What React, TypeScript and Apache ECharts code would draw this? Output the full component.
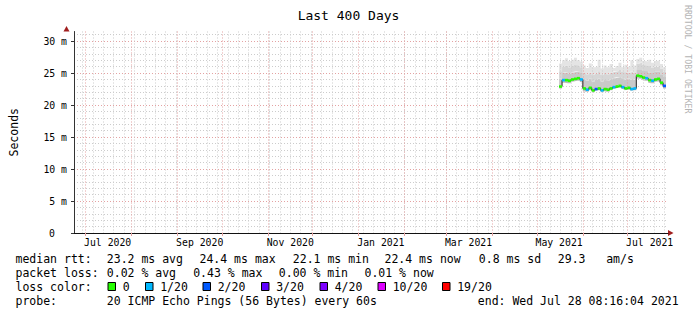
import React, { useEffect, useRef } from 'react';
import * as echarts from 'echarts';

const W = 697;
const H = 315;
const FONT = "'DejaVu Sans Mono', monospace";

// ---------- texts ----------
const titleText = 'Last 400 Days';
const yAxisName = 'Seconds';
const watermark = 'RRDTOOL / TOBI OETIKER';

// ---------- axes ----------
const rangeStart = new Date(2020, 5, 23, 8, 16, 4).getTime();
const rangeEnd = new Date(2021, 6, 28, 8, 16, 4).getTime();
const yMax = 31.5;
const yMajorTicks = [0, 5, 10, 15, 20, 25, 30];
const yMinorTicks = [0, 1, 2, 3, 4, 5, 6, 7, 8, 9, 10, 11, 12, 13, 14, 15, 16, 17, 18, 19, 20, 21, 22, 23, 24, 25, 26, 27, 28, 29, 30, 31];
const xLabelDates = ['2020-07-16', '2020-09-16', '2020-11-16', '2021-01-16', '2021-03-16', '2021-05-16', '2021-07-16'];
const xTickLabels = ['Jul 2020', 'Sep 2020', 'Nov 2020', 'Jan 2021', 'Mar 2021', 'May 2021', 'Jul 2021'];
const monthStarts = ['2020-07-01', '2020-08-01', '2020-09-01', '2020-10-01', '2020-11-01', '2020-12-01', '2021-01-01', '2021-02-01', '2021-03-01', '2021-04-01', '2021-05-01', '2021-06-01', '2021-07-01'];
const firstMonday = '2020-06-29';

// ---------- data (ms), one value per 2-day step ----------
const sampleDates = [
  '2021-05-16', '2021-05-18', '2021-05-20', '2021-05-22', '2021-05-24', '2021-05-26', '2021-05-28', '2021-05-30',
  '2021-06-01', '2021-06-03', '2021-06-05', '2021-06-07', '2021-06-09', '2021-06-11', '2021-06-13', '2021-06-15', '2021-06-17',
  '2021-06-19', '2021-06-21', '2021-06-23', '2021-06-25', '2021-06-27', '2021-06-29', '2021-07-01', '2021-07-03', '2021-07-05',
  '2021-07-07', '2021-07-09', '2021-07-11', '2021-07-13', '2021-07-15', '2021-07-17', '2021-07-19', '2021-07-21', '2021-07-23', '2021-07-25',
];
const dataEnd = '2021-07-27';
const medianMs = [
  22.9, 23.9, 23.9, 23.8, 24.0, 24.1, 24.2, 24.0,
  22.6, 22.4, 22.7, 22.3, 22.5, 22.6, 22.3, 22.5, 22.4, 22.6, 22.8, 22.9, 23.0, 22.8, 22.6, 22.7, 22.5, 22.6,
  24.6, 24.5, 24.3, 24.2, 23.9, 23.8, 24.0, 24.1, 23.5, 23.0,
];
const minMs = [
  22.6, 23.5, 23.5, 23.4, 23.6, 23.7, 23.8, 23.6,
  22.2, 22.1, 22.3, 22.0, 22.2, 22.3, 22.0, 22.2, 22.1, 22.3, 22.5, 22.6, 22.7, 22.5, 22.3, 22.4, 22.2, 22.3,
  24.2, 24.1, 23.9, 23.8, 23.5, 23.4, 23.6, 23.7, 23.1, 22.6,
];
const p75Ms = [
  24.1, 25.0, 25.1, 24.9, 25.1, 25.2, 25.3, 25.0,
  24.0, 23.8, 24.1, 23.7, 23.9, 24.1, 23.7, 23.9, 23.8, 24.0, 24.2, 24.3, 24.4, 24.2, 24.0, 24.1, 23.9, 24.0,
  25.6, 25.6, 25.4, 25.3, 25.1, 25.0, 25.2, 25.2, 24.8, 24.4,
];
const p90Ms = [
  25.3, 26.0, 26.2, 25.9, 26.1, 26.3, 26.2, 25.9,
  25.0, 24.8, 25.1, 24.7, 24.9, 25.3, 24.7, 25.0, 24.8, 25.1, 25.2, 25.3, 25.5, 25.2, 25.1, 25.1, 25.2, 25.0,
  26.5, 26.6, 26.3, 26.2, 26.1, 25.8, 26.0, 26.1, 25.7, 25.2,
];
const maxMs = [
  26.5, 27.0, 27.3, 26.9, 27.1, 27.4, 27.0, 26.8,
  26.2, 25.8, 26.5, 25.9, 26.0, 27.1, 25.7, 26.2, 25.9, 26.4, 25.8, 26.1, 26.6, 25.9, 26.3, 26.0, 27.0, 26.2,
  27.2, 27.4, 26.9, 26.8, 27.1, 26.6, 26.9, 27.0, 26.4, 25.9,
];
const lossLevel = [
  0, 1, 0, 0, 0, 0, 0, 1,
  0, 1, 0, 0, 2, 0, 1, 0, 0, 0, 1, 0, 0, 1, 0, 0, 1, 1,
  0, 0, 0, 1, 0, 1, 0, 0, 0, 2,
];

// ---------- legend ----------
const rttLabel = 'median rtt:';
const rttStats = ['23.2 ms avg', '24.4 ms max', '22.1 ms min', '22.4 ms now', '0.8 ms sd', '29.3', 'am/s'];
const lossLabel = 'packet loss:';
const lossStats = ['0.02 % avg', '0.43 % max', '0.00 % min', '0.01 % now'];
const colorLabel = 'loss color:';
const lossNames = ['0', '1/20', '2/20', '3/20', '4/20', '10/20', '19/20'];
const lossColors = ['#26ff00', '#00b8ff', '#0059ff', '#5e00ff', '#7e00ff', '#dd00ff', '#ff0000'];
const probeLabel = 'probe:';
const probeText = '20 ICMP Echo Pings (56 Bytes) every 60s';
const endText = 'end: Wed Jul 28 08:16:04 2021';

// ---------- layout ----------
const GRID = { left: 66, right: 29, top: 31.5, bottom: 82 };
const LEG_X0 = 15.5;
const LEG_Y = [259, 273, 287, 301];
const rttX = [106.8, 199.5, 292.8, 384.5, 478.8, 557.8, 606.2];
const lossX = [106.8, 193.2, 278.8, 364.5];
const boxX = [108, 145.5, 203, 261.5, 320, 378, 442.5];
const LEG_FS = 11.5;

const parseDay = (s: string) => {
  const [y, m, d] = s.split('-').map(Number);
  return new Date(y, m - 1, d).getTime();
};

export default function App() {
  const ref = useRef<HTMLDivElement>(null);
  useEffect(() => {
    document.body.style.margin = '0';
    const chart = echarts.init(ref.current!, null, { renderer: 'svg', width: W, height: H });

    const xs = sampleDates.map(parseDay);
    const xsEnd = [...xs, parseDay(dataEnd)];
    const ext = (arr: number[]) => [...arr, arr[arr.length - 1]];
    const weekTicks: number[] = [];
    const wd = new Date(parseDay(firstMonday));
    while (wd.getTime() < rangeEnd) {
      weekTicks.push(wd.getTime());
      wd.setDate(wd.getDate() + 7);
    }
    const monthTicks = monthStarts.map(parseDay);
    const labelTs = xLabelDates.map(parseDay);

    const lo = ext(minMs);
    const med = ext(medianMs);
    const p75 = ext(p75Ms);
    const p90 = ext(p90Ms);
    const hi = ext(maxMs);

    const DATA_X = 2; // hidden time axis carrying the series

    const band = (name: string, vals: number[], color: string | null) => ({
      name,
      type: 'line',
      xAxisIndex: DATA_X,
      yAxisIndex: 1,
      stack: 'smoke',
      step: 'end',
      symbol: 'none',
      silent: true,
      z: 2,
      lineStyle: { width: 0, opacity: 0 },
      areaStyle: color ? { color, opacity: 1 } : undefined,
      data: xsEnd.map((t, i) => [t, vals[i]]),
    });

    const minorColor = '#cccccc';
    const majorColor = '#e4a2a2';
    const axisColor = '#333333';

    const option: any = {
      animation: false,
      backgroundColor: '#ffffff',
      title: {
        text: titleText,
        left: 'center',
        top: 4,
        textStyle: { fontFamily: FONT, fontSize: 13, fontWeight: 'normal', color: '#000' },
      },
      grid: { ...GRID, containLabel: false },
      xAxis: [
        {
          type: 'value', min: rangeStart, max: rangeEnd, position: 'bottom', z: 3,
          axisLine: { show: false, onZero: false },
          axisTick: { show: false, customValues: weekTicks },
          axisLabel: { show: false },
          splitLine: { show: true, lineStyle: { color: minorColor, type: [1, 2], width: 1 } },
        },
        {
          type: 'value', min: rangeStart, max: rangeEnd, position: 'bottom', z: 3,
          axisLine: { show: true, onZero: false, lineStyle: { color: '#111', width: 1 } },
          axisTick: { show: true, customValues: monthTicks, length: 3, lineStyle: { color: majorColor } },
          axisLabel: {
            customValues: labelTs,
            formatter: (v: number) => {
              const i = labelTs.indexOf(v);
              return i >= 0 ? xTickLabels[i] : '';
            },
            fontFamily: FONT, fontSize: 9.8, color: '#000', margin: 4,
          },
          splitLine: { show: true, lineStyle: { color: majorColor, type: [1, 2], width: 1 } },
        },
        {
          type: 'time', min: rangeStart, max: rangeEnd, position: 'bottom', show: false,
          axisLine: { show: false, onZero: false },
          axisTick: { show: false },
          axisLabel: { show: false },
          splitLine: { show: false },
        },
      ],
      yAxis: [
        {
          type: 'value', min: 0, max: yMax, position: 'left', z: 3,
          axisLine: { show: false, onZero: false },
          axisTick: { show: false, customValues: yMinorTicks },
          axisLabel: { show: false },
          splitLine: { show: true, lineStyle: { color: minorColor, type: [1, 2], width: 1 } },
        },
        {
          type: 'value', min: 0, max: yMax, position: 'left', z: 3,
          name: yAxisName, nameLocation: 'middle', nameGap: 54, nameRotate: 90,
          nameTextStyle: { fontFamily: FONT, fontSize: 11.5, color: '#000' },
          axisLine: { show: true, onZero: false, lineStyle: { color: axisColor, width: 1 } },
          axisTick: { show: true, customValues: yMajorTicks, length: 3, lineStyle: { color: axisColor } },
          axisLabel: {
            customValues: yMajorTicks,
            formatter: (v: number) => (v === 0 ? '{z|0}' : `${v} m`),
            fontFamily: FONT, fontSize: 9.8, color: '#000', margin: 7,
            rich: { z: { padding: [0, 12, 0, 0], fontFamily: FONT, fontSize: 9.8, color: '#000' } },
          },
          splitLine: { show: true, lineStyle: { color: majorColor, type: [1, 2], width: 1 } },
        },
      ],
      series: [
        band('min', lo, null),
        band('min-median', med.map((v, i) => v - lo[i]), '#bcbcbc'),
        band('median-p75', p75.map((v, i) => v - med[i]), '#c9c9c9'),
        band('p75-p90', p90.map((v, i) => v - p75[i]), '#d6d6d6'),
        band('p90-max', hi.map((v, i) => v - p90[i]), '#e4e4e4'),
        {
          name: 'median',
          type: 'line', xAxisIndex: DATA_X, yAxisIndex: 1, step: 'end', symbol: 'none', silent: true, z: 4,
          lineStyle: { color: '#202020', width: 1 },
          data: xsEnd.map((t, i) => [t, med[i]]),
        },
        {
          name: 'loss',
          type: 'custom', xAxisIndex: DATA_X, yAxisIndex: 1, silent: true, z: 5,
          encode: { x: [0, 1], y: 2 },
          data: xs.map((t, i) => [t, xsEnd[i + 1], medianMs[i], lossLevel[i]]),
          renderItem: (_p: any, api: any) => {
            const a = api.coord([api.value(0), api.value(2)]);
            const b = api.coord([api.value(1), api.value(2)]);
            return {
              type: 'rect',
              shape: { x: a[0], y: a[1] - 1.3, width: b[0] - a[0], height: 2.6 },
              style: { fill: lossColors[api.value(3)] },
            };
          },
        },
      ],
      graphic: [
        { type: 'polygon', silent: true, shape: { points: [[63.5, 31.5], [69.5, 31.5], [66.5, 26]] }, style: { fill: '#a01e1e' } },
        { type: 'polygon', silent: true, shape: { points: [[668, 230], [668, 236], [673.5, 233]] }, style: { fill: '#a01e1e' } },
        {
          type: 'text', x: 688, y: 5, rotation: -Math.PI / 2, silent: true,
          style: { text: watermark, fontFamily: FONT, fontSize: 8.2, fill: '#b4b4b4', align: 'left', verticalAlign: 'middle' },
        },
        ...[rttLabel, lossLabel, colorLabel, probeLabel].map((t, i) => ({
          type: 'text', x: LEG_X0, y: LEG_Y[i], silent: true,
          style: { text: t, fontFamily: FONT, fontSize: LEG_FS, fill: '#000', verticalAlign: 'middle' },
        })),
        ...rttStats.map((t, i) => ({
          type: 'text', x: rttX[i], y: LEG_Y[0], silent: true,
          style: { text: t, fontFamily: FONT, fontSize: LEG_FS, fill: '#000', verticalAlign: 'middle' },
        })),
        ...lossStats.map((t, i) => ({
          type: 'text', x: lossX[i], y: LEG_Y[1], silent: true,
          style: { text: t, fontFamily: FONT, fontSize: LEG_FS, fill: '#000', verticalAlign: 'middle' },
        })),
        ...lossNames.map((t, i) => ({
          type: 'rect', silent: true,
          shape: { x: boxX[i], y: LEG_Y[2] - 4.5, width: 7.5, height: 8 },
          style: { fill: lossColors[i], stroke: '#000', lineWidth: 1 },
        })),
        ...lossNames.map((t, i) => ({
          type: 'text', x: boxX[i] + 14.7, y: LEG_Y[2], silent: true,
          style: { text: t, fontFamily: FONT, fontSize: LEG_FS, fill: '#000', verticalAlign: 'middle' },
        })),
        {
          type: 'text', x: 106.8, y: LEG_Y[3], silent: true,
          style: { text: probeText, fontFamily: FONT, fontSize: LEG_FS, fill: '#000', verticalAlign: 'middle' },
        },
        {
          type: 'text', x: 477.8, y: LEG_Y[3], silent: true,
          style: { text: endText, fontFamily: FONT, fontSize: LEG_FS, fill: '#000', verticalAlign: 'middle' },
        },
      ],
    };

    chart.setOption(option);
    return () => chart.dispose();
  }, []);

  return (
    <div
      ref={ref}
      style={{ position: 'fixed', left: 0, top: 0, width: W, height: H, background: '#fff' }}
    />
  );
}
